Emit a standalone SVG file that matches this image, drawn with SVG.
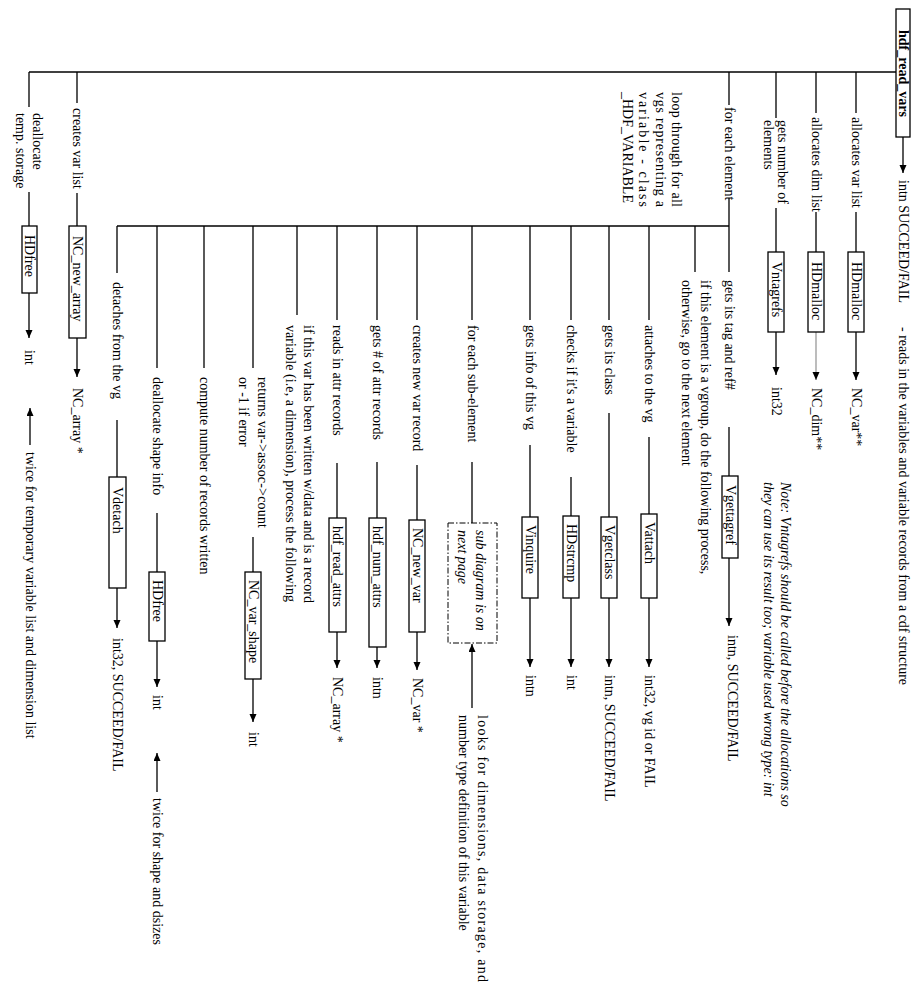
<svg xmlns="http://www.w3.org/2000/svg" width="923" height="1000" viewBox="0 0 923 1000">
<style>
.t{font-family:"Liberation Serif","Times New Roman",serif;font-size:14px;fill:#000}
.b{font-weight:bold}
.i{font-style:italic}
.ln{stroke:#000;stroke-width:1.3;fill:none}
.ar{stroke:#000;stroke-width:1.3;fill:none;marker-end:url(#ah)}
.grey{stroke:#999}
.box{fill:#fff;stroke:#000;stroke-width:1.3}
.dd{fill:#fff;stroke:#000;stroke-width:1;stroke-dasharray:6 2 1.5 2}
</style>
<defs>
<marker id="ah" markerUnits="userSpaceOnUse" markerWidth="9" markerHeight="8" refX="8" refY="3.5" orient="auto">
<path d="M0,0 L8,3.5 L0,7 z" fill="#000"/>
</marker>
</defs>
<rect width="923" height="1000" fill="#fff"/>

<g id="connectors">
<path class="ln" d="M29,72 H896"/>
<path class="ln" d="M117,226 H729"/>
<path class="ar" d="M903,137 V173"/>
<path class="ln" d="M856,72 V113 M856,212 V252"/>
<path class="ar" d="M856,332 V380"/>
<path class="ln" d="M816,72 V113 M816,212 V252"/>
<path class="ar grey" d="M816,332 V380"/>
<path class="ln" d="M776,72 V118 M776,208 V252"/>
<path class="ar" d="M776,332 V375"/>
<path class="ln" d="M729,72 V105 M729,198 V226"/>
<path class="ln" d="M729,226 V272 M729,427 V476"/>
<path class="ar" d="M729,558 V626"/>
<path class="ln" d="M695,226 V272"/>
<path class="ln" d="M649,226 V320 M649,437 V514"/>
<path class="ar" d="M649,598 V667"/>
<path class="ln" d="M609,226 V320 M609,413 V517"/>
<path class="ar" d="M609,598 V667"/>
<path class="ln" d="M571,226 V320 M571,477 V516"/>
<path class="ar" d="M571,598 V667"/>
<path class="ln" d="M530,226 V320 M530,445 V517"/>
<path class="ar" d="M530,598 V667"/>
<path class="ln" d="M472,226 V320 M472,462 V523"/>
<path class="ar" d="M472,708 V644"/>
<path class="ln" d="M417,226 V320 M417,465 V520"/>
<path class="ar" d="M417,632 V670"/>
<path class="ln" d="M377,226 V320 M377,462 V518"/>
<path class="ar" d="M377,647 V668"/>
<path class="ln" d="M337,226 V320 M337,463 V518"/>
<path class="ar" d="M337,632 V668"/>
<path class="ln" d="M297,226 V315"/>
<path class="ln" d="M253,226 V368 M253,537 V572"/>
<path class="ar" d="M253,679 V722"/>
<path class="ln" d="M204,226 V368"/>
<path class="ln" d="M157,226 V368 M157,513 V572"/>
<path class="ar" d="M157,641 V687"/>
<path class="ar" d="M157,792 V753"/>
<path class="ln" d="M117,226 V273 M117,420 V477"/>
<path class="ar" d="M117,588 V628"/>
<path class="ln" d="M77,72 V103 M77,193 V226"/>
<path class="ar" d="M77,338 V377"/>
<path class="ln" d="M29,72 V107 M29,192 V226"/>
<path class="ar" d="M29,293 V338"/>
<path class="ar" d="M30,445 V408"/>

<text class="t" transform="translate(852,117) rotate(90)">allocates var list</text>
<text class="t" transform="translate(812,117) rotate(90)">allocates dim list</text>
<text class="t" transform="translate(778,120) rotate(90)">gets number of</text>
<text class="t" transform="translate(764,120) rotate(90)">elements</text>
<text class="t" transform="translate(725,107) rotate(90)">for each element</text>
<text class="t" transform="translate(725,280) rotate(90)">gets its tag and ref#</text>
<text class="t" transform="translate(701,280) rotate(90)">if this element is a vgroup, do the following process,</text>
<text class="t" transform="translate(682,280) rotate(90)">otherwise, go to the next element</text>
<text class="t" transform="translate(645,325) rotate(90)">attaches to the vg</text>
<text class="t" transform="translate(605,325) rotate(90)">gets its class</text>
<text class="t" transform="translate(567,325) rotate(90)">checks if it's a variable</text>
<text class="t" transform="translate(526,325) rotate(90)">gets info of this vg</text>
<text class="t" transform="translate(468,325) rotate(90)">for each sub-element</text>
<text class="t" transform="translate(413,325) rotate(90)">creates new var record</text>
<text class="t" transform="translate(373,325) rotate(90)">gets # of attr records</text>
<text class="t" transform="translate(333,325) rotate(90)">reads in attr records</text>
<text class="t" transform="translate(304,325) rotate(90)" textLength="278" lengthAdjust="spacing">if this var has been written w/data and is a record</text>
<text class="t" transform="translate(286,325) rotate(90)" textLength="277" lengthAdjust="spacing">variable (i.e, a dimension), process the following</text>
<text class="t" transform="translate(258,377) rotate(90)" textLength="151" lengthAdjust="spacing">returns var-&gt;assoc-&gt;count</text>
<text class="t" transform="translate(239,377) rotate(90)">or -1 if error</text>
<text class="t" transform="translate(200,377) rotate(90)">compute number of records written</text>
<text class="t" transform="translate(153,377) rotate(90)">deallocate shape info</text>
<text class="t" transform="translate(113,282) rotate(90)">detaches from the vg</text>
<text class="t" transform="translate(73,108) rotate(90)">creates var list</text>
<text class="t" transform="translate(33,113) rotate(90)">deallocate</text>
<text class="t" transform="translate(16,113) rotate(90)">temp. storage</text>

<text class="t" transform="translate(899,180) rotate(90)">intn SUCCEED/FAIL</text>
<text class="t" transform="translate(852,388) rotate(90)">NC_var**</text>
<text class="t" transform="translate(812,388) rotate(90)">NC_dim**</text>
<text class="t" transform="translate(772,387) rotate(90)">int32</text>
<text class="t" transform="translate(728,635) rotate(90)">intn, SUCCEED/FAIL</text>
<text class="t" transform="translate(645,675) rotate(90)">int32, vg id or FAIL</text>
<text class="t" transform="translate(605,675) rotate(90)">intn, SUCCEED/FAIL</text>
<text class="t" transform="translate(567,675) rotate(90)">int</text>
<text class="t" transform="translate(526,675) rotate(90)">intn</text>
<text class="t" transform="translate(413,678) rotate(90)">NC_var *</text>
<text class="t" transform="translate(373,677) rotate(90)">intn</text>
<text class="t" transform="translate(333,677) rotate(90)">NC_array *</text>
<text class="t" transform="translate(249,732) rotate(90)">int</text>
<text class="t" transform="translate(153,695) rotate(90)">int</text>
<text class="t" transform="translate(113,638) rotate(90)">int32, SUCCEED/FAIL</text>
<text class="t" transform="translate(73,388) rotate(90)">NC_array *</text>
<text class="t" transform="translate(25,350) rotate(90)">int</text>
</g>

<g id="desc">
<text class="t" transform="translate(899,327) rotate(90)">- reads in the variables and variable records from a cdf structure</text>
</g>
<g id="note">
<text class="t i" transform="translate(781,482) rotate(90)">Note: Vntagrefs should be called before the allocations so</text>
<text class="t i" transform="translate(764,482) rotate(90)">they can use its result too; variable used wrong type: int</text>
</g>
<g id="loop-note">
<text class="t" transform="translate(672,92) rotate(90)" textLength="115" lengthAdjust="spacing">loop through for all</text>
<text class="t" transform="translate(656,92) rotate(90)" textLength="115" lengthAdjust="spacing">vgs representing a</text>
<text class="t" transform="translate(639,92) rotate(90)" textLength="115" lengthAdjust="spacing">variable - class</text>
<text class="t" transform="translate(623,92) rotate(90)">_HDF_VARIABLE</text>
</g>
<g id="looks-note">
<text class="t" transform="translate(478,715) rotate(90)" textLength="267" lengthAdjust="spacing">looks for dimensions, data storage, and</text>
<text class="t" transform="translate(459,715) rotate(90)">number type definition of this variable</text>
</g>
<g id="twice-shape">
<text class="t" transform="translate(153,798) rotate(90)">twice for shape and dsizes</text>
</g>
<g id="twice-temp">
<text class="t" transform="translate(26,452) rotate(90)">twice for temporary variable list and dimension list</text>
</g>

<g id="hdf_read_vars"><rect class="box" x="896" y="9" width="14" height="128"/><text class="t b" transform="translate(898.5,30) rotate(90)">hdf_read_vars</text></g>
<g id="HDmalloc-var"><rect class="box" x="848" y="252" width="16" height="80"/><text class="t" transform="translate(851.5,262) rotate(90)">HDmalloc</text></g>
<g id="HDmalloc-dim"><rect class="box" x="808" y="252" width="16" height="80"/><text class="t" transform="translate(811.5,262) rotate(90)">HDmalloc</text></g>
<g id="Vntagrefs"><rect class="box" x="768" y="252" width="16" height="80"/><text class="t" transform="translate(771.5,262) rotate(90)">Vntagrefs</text></g>
<g id="Vgettagref"><rect class="box" x="722" y="476" width="16" height="82"/><text class="t" transform="translate(725.5,485) rotate(90)">Vgettagref</text></g>
<g id="Vattach"><rect class="box" x="641" y="514" width="16" height="84"/><text class="t" transform="translate(644.5,522) rotate(90)">Vattach</text></g>
<g id="Vgetclass"><rect class="box" x="601" y="517" width="16" height="81"/><text class="t" transform="translate(604.5,525) rotate(90)">Vgetclass</text></g>
<g id="HDstrcmp"><rect class="box" x="563" y="516" width="16" height="82"/><text class="t" transform="translate(566.5,524) rotate(90)">HDstrcmp</text></g>
<g id="Vinquire"><rect class="box" x="522" y="517" width="16" height="81"/><text class="t" transform="translate(525.5,525) rotate(90)">Vinquire</text></g>
<g id="subdiagram"><rect class="dd" x="448" y="523" width="49" height="120"/><text class="t i" transform="translate(476,530) rotate(90)">sub diagram is on</text><text class="t i" transform="translate(458,530) rotate(90)">next page</text></g>
<g id="NC_new_var"><rect class="box" x="409" y="520" width="16" height="112"/><text class="t" transform="translate(412.5,528) rotate(90)">NC_new_var</text></g>
<g id="hdf_num_attrs"><rect class="box" x="369" y="518" width="17" height="129"/><text class="t" transform="translate(373,526) rotate(90)">hdf_num_attrs</text></g>
<g id="hdf_read_attrs"><rect class="box" x="329" y="518" width="17" height="114"/><text class="t" transform="translate(333,526) rotate(90)">hdf_read_attrs</text></g>
<g id="NC_var_shape"><rect class="box" x="245" y="572" width="16" height="107"/><text class="t" transform="translate(248.5,580) rotate(90)">NC_var_shape</text></g>
<g id="HDfree-shape"><rect class="box" x="149" y="572" width="16" height="69"/><text class="t" transform="translate(152.5,580) rotate(90)">HDfree</text></g>
<g id="Vdetach"><rect class="box" x="109" y="477" width="17" height="111"/><text class="t" transform="translate(113,487) rotate(90)">Vdetach</text></g>
<g id="NC_new_array"><rect class="box" x="69" y="226" width="17" height="112"/><text class="t" transform="translate(73,236) rotate(90)">NC_new_array</text></g>
<g id="HDfree-temp"><rect class="box" x="22" y="226" width="15" height="67"/><text class="t" transform="translate(25,235) rotate(90)">HDfree</text></g>
</svg>
